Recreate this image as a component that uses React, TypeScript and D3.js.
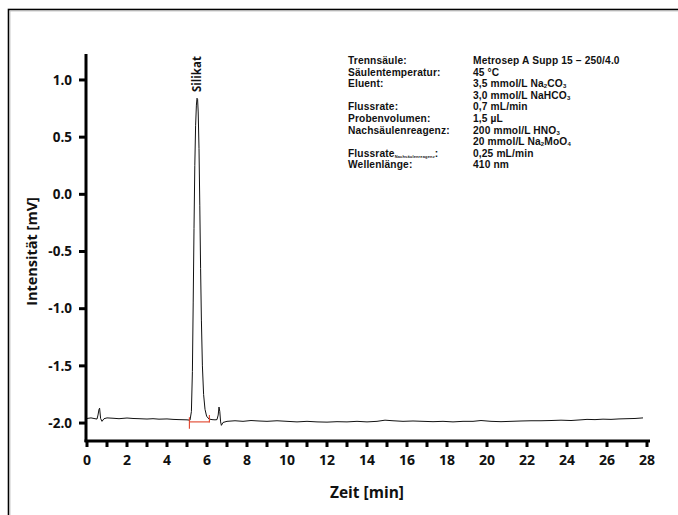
import React from "react";
import * as d3 from "d3";

const width = 678;
const height = 515;

// chromatogram trace (time in min, signal in mV)
const times = [
  0, 0.2, 0.4, 0.5, 0.55, 0.6, 0.63, 0.68, 0.75, 0.85, 1.0, 1.3, 1.6, 2.0, 2.3, 2.6, 3.0, 3.3, 3.6, 4.0,
  4.3, 4.6, 5.0, 5.15, 5.22, 5.27, 5.31, 5.35, 5.39, 5.43, 5.47, 5.5, 5.53, 5.56, 5.6, 5.64, 5.68, 5.72,
  5.77, 5.83, 5.9, 5.98, 6.1, 6.25, 6.4, 6.5, 6.56, 6.6, 6.64, 6.68, 6.72, 6.8, 7.0, 7.4, 7.8, 8.2, 8.6,
  9.0, 9.5, 10.0, 10.5, 11.0, 11.5, 12.0, 12.5, 13.0, 13.5, 14.0, 14.5, 14.9, 15.3, 15.8, 16.3, 16.8,
  17.3, 17.8, 18.3, 18.8, 19.3, 19.7, 20.2, 20.7, 21.2, 21.7, 22.2, 22.7, 23.2, 23.7, 24.2, 24.7, 25.0,
  25.4, 25.8, 26.2, 26.6, 27.0, 27.4, 27.8,
];
const signal = [
  -1.96, -1.955, -1.962, -1.965, -1.93, -1.88, -1.87, -1.96, -1.985, -1.962, -1.955, -1.958, -1.962,
  -1.956, -1.96, -1.962, -1.965, -1.962, -1.966, -1.964, -1.968, -1.97, -1.972, -1.975, -1.9, -1.55,
  -0.95, -0.3, 0.25, 0.6, 0.78, 0.84, 0.83, 0.72, 0.4, -0.1, -0.65, -1.1, -1.5, -1.75, -1.88, -1.94,
  -1.965, -1.97, -1.972, -1.97, -1.93, -1.86, -1.9, -1.99, -2.02, -1.995, -1.985, -1.98, -1.985, -1.978,
  -1.982, -1.985, -1.98, -1.985, -1.99, -1.985, -1.99, -1.992, -1.988, -1.99, -1.985, -1.99, -1.985,
  -1.975, -1.98, -1.985, -1.982, -1.985, -1.988, -1.985, -1.99, -1.985, -1.985, -1.978, -1.985, -1.988,
  -1.985, -1.982, -1.98, -1.98, -1.978, -1.975, -1.978, -1.972, -1.968, -1.97, -1.966, -1.968, -1.964,
  -1.962, -1.96, -1.955,
];

// red integration baseline below the peak
const baseStart = [5.12, -1.99];
const baseEnd = [6.12, -1.99];

const xTicks = d3.range(0, 29, 1);
const xLabels = d3.range(0, 29, 2);
const yLabels = [1.0, 0.5, 0.0, -0.5, -1.0, -1.5, -2.0];

const peakName = "Silikat";
const peakTime = 5.5;

// conditions table (subscripts marked with _{...})
const condLabels = [
  "Trennsäule:", "Säulentemperatur:", "Eluent:", "", "Flussrate:", "Probenvolumen:",
  "Nachsäulenreagenz:", "", "Flussrate_{Nachsäulenreagenz}:", "Wellenlänge:",
];
const condValues = [
  "Metrosep A Supp 15 – 250/4.0", "45 °C", "3,5 mmol/L Na_{2}CO_{3}", "3,0 mmol/L NaHCO_{3}",
  "0,7 mL/min", "1,5 µL", "200 mmol/L HNO_{3}", "20 mmol/L Na_{2}MoO_{4}", "0,25 mL/min", "410 nm",
];

const font = "'Open Sans', 'DejaVu Sans', sans-serif";
const condFont = "'Liberation Sans', Arial, sans-serif";

const x = d3.scaleLinear().domain([0, 28]).range([87, 647]);
const y = d3.scaleLinear().domain([-2.157, 1.227]).range([441, 54]);

// split a string into normal / subscript parts
const renderSub = (s: string, subSize: number) =>
  s
    .split(/(_\{[^}]*\})/)
    .filter((p) => p.length)
    .map((p, i) =>
      p.startsWith("_{") ? (
        <tspan key={i} fontSize={subSize} baselineShift="-15%">
          {p.slice(2, -1)}
        </tspan>
      ) : (
        <tspan key={i}>{p}</tspan>
      )
    );

const App = () => {
  const data = times.map((t, i) => [t, signal[i]] as [number, number]);
  const line = d3
    .line<[number, number]>()
    .x((d) => x(d[0]))
    .y((d) => y(d[1]));

  const x0 = x(-0.05);
  const x1 = x(28.15);

  return (
    <svg
      width={width}
      height={height}
      style={{ position: "absolute", left: 0, top: 0, background: "#fff" }}
      fontFamily={font}
    >
      {/* outer frame */}
      <rect x={8.5} y={9.5} width={700} height={540} fill="none" stroke="#000" strokeWidth={1.6} />
      <rect x={10} y={11} width={700} height={540} fill="none" stroke="#bbb" strokeWidth={0.8} />

      {/* trace */}
      <path d={line(data) ?? ""} fill="none" stroke="#111" strokeWidth={1} strokeLinejoin="round" />

      {/* integration baseline */}
      <g stroke="#e0432b" strokeWidth={1.1}>
        <line x1={x(baseStart[0])} x2={x(baseEnd[0])} y1={y(baseStart[1])} y2={y(baseEnd[1])} />
        <line x1={x(baseStart[0])} x2={x(baseStart[0])} y1={y(-1.95)} y2={y(-2.05)} />
        <line x1={x(baseEnd[0])} x2={x(baseEnd[0])} y1={y(-1.93)} y2={y(-1.995)} />
      </g>

      {/* peak label */}
      <text
        transform={`translate(${x(peakTime) + 4},${92}) rotate(-90)`}
        fontSize={11.5}
        fontWeight="bold"
        fill="#111"
      >
        {peakName}
      </text>

      {/* y axis */}
      <line x1={86} x2={86} y1={y(1.227)} y2={442} stroke="#000" strokeWidth={3} />
      {yLabels.map((v) => (
        <g key={v} transform={`translate(0,${y(v)})`}>
          <line x1={79} x2={86} stroke="#000" strokeWidth={3} />
          <text x={72} dy="0.35em" textAnchor="end" fontSize={13.5} fontWeight="bold" fill="#111">
            {v.toFixed(1)}
          </text>
        </g>
      ))}
      <text
        transform={`translate(37,${y(-0.5)}) rotate(-90)`}
        textAnchor="middle"
        fontSize={14.5}
        fontWeight="bold"
        fill="#111"
      >
        Intensität [mV]
      </text>

      {/* x axis */}
      <line x1={x0 - 1.5} x2={x1} y1={441} y2={441} stroke="#000" strokeWidth={3} />
      {xTicks.map((t) => (
        <line key={t} x1={x(t)} x2={x(t)} y1={441} y2={447} stroke="#000" strokeWidth={3} />
      ))}
      {xLabels.map((t) => (
        <text key={t} x={x(t)} y={465} textAnchor="middle" fontSize={14} fontWeight="bold" fill="#111">
          {t}
        </text>
      ))}
      <text x={367} y={498} textAnchor="middle" fontSize={15.5} fontWeight="bold" fill="#111">
        Zeit [min]
      </text>

      {/* conditions */}
      <g fontFamily={condFont} fontSize={10.2} fontWeight="bold" fill="#111" letterSpacing={0.15}>
        {condLabels.map((s, i) => (
          <text key={"l" + i} x={348} y={64 + i * 11.6}>
            {renderSub(s, 4)}
          </text>
        ))}
        {condValues.map((s, i) => (
          <text key={"v" + i} x={473} y={64 + i * 11.6}>
            {renderSub(s, 6)}
          </text>
        ))}
      </g>
    </svg>
  );
};

export default App;
